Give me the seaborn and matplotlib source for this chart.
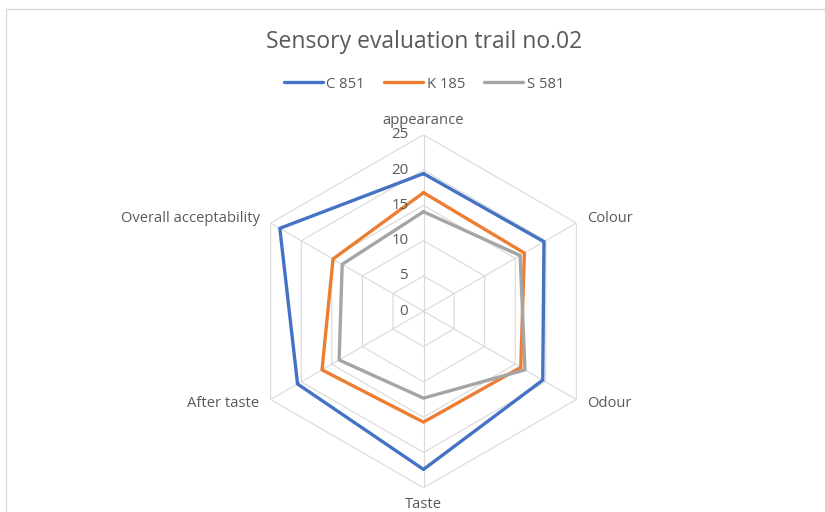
import numpy as np
import pandas as pd
import matplotlib
matplotlib.use("Agg")
import matplotlib.pyplot as plt
import matplotlib.transforms as mtransforms
from matplotlib.patches import Rectangle
import seaborn as sns

categories = ["appearance", "Colour", "Odour", "Taste", "After taste", "Overall acceptability"]
series_names = ["C 851", "K 185", "S 581"]
c851 = [19.5, 19.7, 19.5, 22.4, 20.6, 23.5]
k185 = [16.8, 16.5, 15.9, 15.7, 16.6, 14.8]
s581 = [14.1, 15.8, 16.6, 12.3, 13.8, 13.3]
levels = [0, 5, 10, 15, 20, 25]

colors = ["#4472C4", "#ED7D31", "#A5A5A5"]
text_col = "#595959"
grid_col = "#D9D9D9"

sns.set_style("white")
plt.rcParams["font.family"] = ["Open Sans", "DejaVu Sans"]

n = len(categories)
angles = np.linspace(0, 2 * np.pi, n, endpoint=False)

# closed loops for each series
rows = []
for name, vals in zip(series_names, [c851, k185, s581]):
    for a, v in zip(list(angles) + [2 * np.pi], list(vals) + [vals[0]]):
        rows.append({"angle": a, "score": v, "series": name})
df = pd.DataFrame(rows)

fig = plt.figure(figsize=(8.25, 5.12), dpi=100)
fig.patches.append(Rectangle((6 / 825, -0.1), 1.2, 1.1 - 9 / 512, transform=fig.transFigure,
                             fill=False, edgecolor=grid_col, linewidth=1.0))
ax = fig.add_axes([0.2994, 0.0473, 0.4279, 0.6895], projection="polar")
ax.set_theta_offset(np.pi / 2)
ax.set_theta_direction(-1)
ax.set_ylim(0, 25)
ax.grid(False)
ax.spines["polar"].set_visible(False)
ax.set_xticks([])
ax.set_yticks([])

# hexagonal grid
for lv in levels[1:]:
    ax.plot(list(angles) + [angles[0]], [lv] * (n + 1), color=grid_col, lw=0.8, zorder=1)
for a in angles:
    ax.plot([a, a], [0, 25], color=grid_col, lw=0.8, zorder=1)

sns.lineplot(data=df, x="angle", y="score", hue="series", palette=colors, sort=False,
             estimator=None, linewidth=2.4, ax=ax, legend=False, zorder=3)
ax.set_xlabel("")
ax.set_ylabel("")

# radial value labels
off = mtransforms.offset_copy(ax.transData, fig=fig, x=-11, y=0, units="points")
for lv in levels:
    ax.text(0, lv, str(lv), transform=off, ha="right", va="center", fontsize=10.8, color=text_col)

# category labels
label_pos = [
    (0, 25, 0, 10.5, "center", "center"),
    (angles[1], 25, 8, 3, "left", "center"),
    (angles[2], 25, 8, -3, "left", "center"),
    (angles[3], 25, 0, -12, "center", "center"),
    (angles[4], 25, -8, -3, "right", "center"),
    (angles[5], 25, -8, 3, "right", "center"),
]
for cat, (a, r, dx, dy, ha, va) in zip(categories, label_pos):
    tr = mtransforms.offset_copy(ax.transData, fig=fig, x=dx, y=dy, units="points")
    ax.text(a, r, cat, transform=tr, ha=ha, va=va, fontsize=10.6, color=text_col)

fig.text(424 / 825, 1 - 42 / 512, "Sensory evaluation trail no.02", ha="center", va="center",
         fontsize=16.5, color=text_col)

handles = [plt.Line2D([], [], color=c, lw=2.4) for c in colors]
fig.legend(handles, series_names, loc="center", bbox_to_anchor=(424 / 825, 1 - 84 / 512), ncol=3,
           frameon=False, fontsize=10.6, handlelength=2.65, handletextpad=0.25, columnspacing=1.3,
           labelcolor=text_col)

fig.savefig("out.png", dpi=100)
